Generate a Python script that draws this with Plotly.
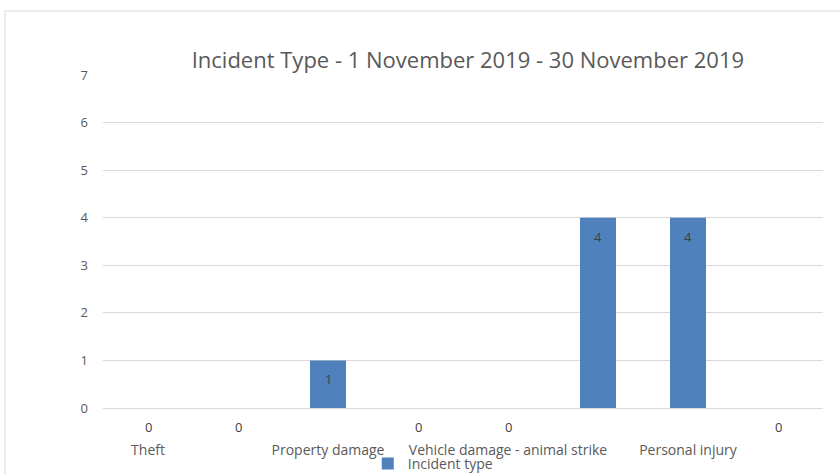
import plotly.graph_objects as go

# Incident counts per category (every other category label is skipped on the axis)
categories = ["Theft", "", "Property damage", "", "Vehicle damage - animal strike", "", "Personal injury", ""]
counts = [0, 0, 1, 0, 0, 4, 4, 0]
y_ticks = [0, 1, 2, 3, 4, 5, 6, 7]

positions = list(range(len(categories)))
font_family = "Open Sans, Liberation Sans, sans-serif"
bar_color = "#4f81bd"
text_color = "#595959"
grid_color = "#d9d9d9"

fig = go.Figure()
fig.add_trace(go.Bar(
    x=positions,
    y=counts,
    width=0.4,
    marker=dict(color=bar_color, line=dict(width=0)),
    name="Incident type",
    showlegend=True,
))

# Value labels just inside the end of each bar (below the axis for zero bars)
for xi, v in zip(positions, counts):
    fig.add_annotation(
        x=xi, y=v, xref="x", yref="y",
        text=str(v), showarrow=False, yshift=-19,
        font=dict(family=font_family, size=13, color="#404040"),
    )

# Light chart-area border
fig.add_shape(
    type="rect", xref="paper", yref="paper",
    x0=-0.1361, x1=1.026, y0=-0.21, y1=1.192,
    line=dict(color=grid_color, width=1), fillcolor="rgba(0,0,0,0)",
    layer="below",
)

fig.update_layout(
    width=840, height=474,
    margin=dict(l=103, r=17, t=75, b=66, autoexpand=False),
    paper_bgcolor="white", plot_bgcolor="white",
    font=dict(family=font_family, color=text_color, size=13),
    title=dict(
        text="Incident Type - 1 November 2019 - 30 November 2019",
        x=0.557, xanchor="center", xref="container",
        y=1 - 60 / 474, yanchor="middle", yref="container",
        font=dict(family=font_family, size=22, color=text_color),
    ),
    showlegend=True,
    legend=dict(
        orientation="h", x=0.458, xanchor="center",
        y=-0.168, yanchor="middle",
        font=dict(family=font_family, size=14, color=text_color),
        bgcolor="rgba(0,0,0,0)",
        itemwidth=30,
    ),
    bargap=0.6,
)

fig.update_xaxes(
    range=[-0.5, len(categories) - 0.5],
    tickmode="array", tickvals=positions, ticktext=categories,
    ticklabelstandoff=29, tickangle=0,
    showgrid=False, zeroline=False,
    showline=True, linecolor=grid_color, linewidth=1,
    ticks="", tickfont=dict(family=font_family, size=14, color=text_color),
)
fig.update_yaxes(
    range=[0, 7],
    tickmode="array", tickvals=y_ticks,
    showgrid=True, gridcolor=grid_color, gridwidth=1,
    zeroline=False, showline=False, ticks="",
    ticklabelstandoff=14,
    tickfont=dict(family=font_family, size=13, color=text_color),
)

fig.write_html("out.html")
